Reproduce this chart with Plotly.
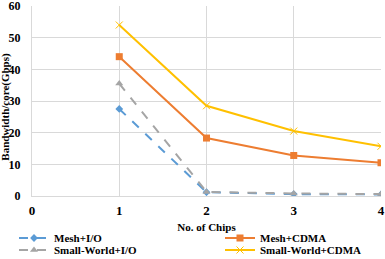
import plotly.graph_objects as go

chips = [1, 2, 3, 4]
mesh_io = [27.5, 1.2, 0.6, 0.5]
mesh_cdma = [44.0, 18.3, 12.8, 10.5]
sw_io = [35.5, 1.3, 0.8, 0.6]
sw_cdma = [54.0, 28.5, 20.5, 15.7]
x_ticks = [0, 1, 2, 3, 4]
y_ticks = [0, 10, 20, 30, 40, 50, 60]
y_title = "Bandwidth/core(Gbps)"

FONT = "Liberation Serif"

fig = go.Figure()
fig.add_trace(go.Scatter(x=chips, y=mesh_io, name="Mesh+I/O", mode="lines+markers",
                         line=dict(color="#5B9BD5", width=2, dash="dash"),
                         marker=dict(symbol="diamond", size=6, color="#5B9BD5"),
                         legend="legend"))
fig.add_trace(go.Scatter(x=chips, y=sw_io, name="Small-World+I/O", mode="lines+markers",
                         line=dict(color="#A5A5A5", width=2, dash="dash"),
                         marker=dict(symbol="triangle-up", size=7, color="#A5A5A5"),
                         legend="legend2"))
fig.add_trace(go.Scatter(x=chips, y=mesh_cdma, name="Mesh+CDMA", mode="lines+markers",
                         line=dict(color="#ED7D31", width=2),
                         marker=dict(symbol="square", size=7, color="#ED7D31"),
                         legend="legend3"))
fig.add_trace(go.Scatter(x=chips, y=sw_cdma, name="Small-World+CDMA", mode="lines+markers",
                         line=dict(color="#FFC000", width=2),
                         marker=dict(symbol="x-thin", size=7, color="#FFC000",
                                     line=dict(color="#FFC000", width=1)),
                         legend="legend4"))

leg_font = dict(family=FONT, size=11, color="black", weight="bold")
def leg(xpx, ypx):
    return dict(x=(xpx - 32) / 349, y=(196 - ypx) / 190, xanchor="left", yanchor="middle",
                font=leg_font, itemwidth=30, bgcolor="rgba(0,0,0,0)", borderwidth=0)

fig.update_layout(
    width=385, height=259,
    margin=dict(l=32, r=4, t=6, b=63, autoexpand=False),
    paper_bgcolor="white", plot_bgcolor="white",
    font=dict(family=FONT, size=11, color="black"),
    showlegend=True,
    legend=leg(14, 238),
    legend2=leg(14, 250),
    legend3=leg(220, 238),
    legend4=leg(220, 250),
    xaxis=dict(range=[0, 4], tickvals=x_ticks, showgrid=True, gridcolor="#D9D9D9",
               gridwidth=1, zeroline=False, showline=True, linecolor="#D9D9D9",
               tickfont=dict(family=FONT, size=13, weight="bold"),
               ticks="outside", ticklen=2, tickcolor="rgba(0,0,0,0)",
               ticklabeloverflow="allow",
               title=dict(text="No. of Chips", font=dict(family=FONT, size=11, weight="bold"),
                          standoff=6)),
    yaxis=dict(range=[0, 60], tickvals=y_ticks, showgrid=True, gridcolor="#D9D9D9",
               gridwidth=1, zeroline=False, showline=True, linecolor="#D9D9D9",
               tickfont=dict(family=FONT, size=12, weight="bold"),
               ticks="outside", ticklen=8, tickcolor="rgba(0,0,0,0)",
               ticklabeloverflow="allow"),
    annotations=[dict(text=y_title, textangle=-90, xref="paper", yref="paper",
                      x=(6 - 32) / 349, y=0.47, xanchor="center", yanchor="middle",
                      showarrow=False, borderpad=0,
                      font=dict(family=FONT, size=11, weight="bold"))],
)
fig.write_html("out.html")
